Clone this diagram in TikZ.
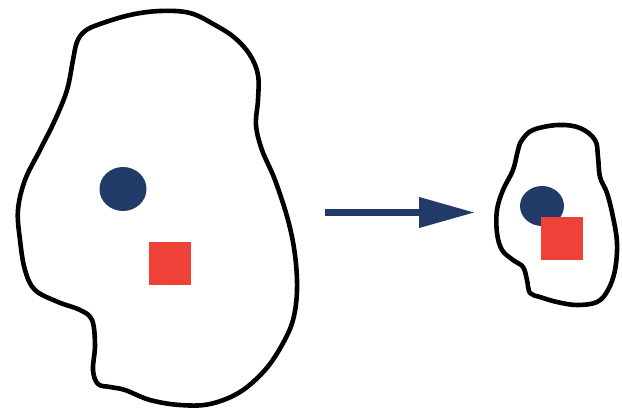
\documentclass[tikz,border=0pt]{standalone}
\usetikzlibrary{arrows.meta}
\definecolor{navy}{HTML}{213A68}
\definecolor{redsq}{HTML}{EE4137}
\tikzset{
  blob/.style={draw=black, line width=4.6pt, line join=round},
  dot/.style={fill=navy, draw=none},
  sq/.style={fill=redsq, draw=none},
  bigarrow/.style={draw=navy, line width=7pt, -{Triangle[length=56pt,width=29pt]}}
}
\begin{document}
\begin{tikzpicture}[x=1pt,y=-1pt]
\useasboundingbox (0,0) rectangle (622,414);
% large blob
\draw[blob] plot[smooth cycle, tension=0.6] coordinates {
 (85,31) (100,24) (130,15) (160,11) (190,13) (215,25) (235,38) (250,55)
 (258,75) (258,100) (256,125) (262,150) (275,180) (288,220) (295,255)
 (297,290) (293,320) (282,345) (265,370) (240,392) (210,404) (180,405)
 (150,400) (125,390) (110,387) (98,384) (93,370) (95,345) (92,320)
 (80,310) (58,302) (35,290) (25,270) (20,240) (18,210) (25,180)
 (40,150) (55,120) (67,90) (73,60) (77,42)};
\fill[dot] (123,189) ellipse [x radius=23.5, y radius=22];
\fill[sq] (149,242) rectangle (191,285);
% arrow
\coordinate (a1) at (325,212.5);
\coordinate (a2) at (475,212.5);
\draw[bigarrow] (a1) -- (a2);
% small blob
\draw[blob] plot[smooth cycle, tension=0.6] coordinates {
 (522,140) (533,130) (558,125) (580,128) (595,140) (598,157) (600,177)
 (607,193) (613,217) (617,243) (615,270) (608,290) (597,302) (577,305)
 (557,302) (540,297) (530,293) (527,280) (523,267) (513,260) (502,250)
 (497,233) (497,210) (503,190) (513,170) (518,150)};
\fill[dot] (542,206) ellipse [x radius=22, y radius=20];
\fill[sq] (541,217) rectangle (583,260);
\end{tikzpicture}
\end{document}
